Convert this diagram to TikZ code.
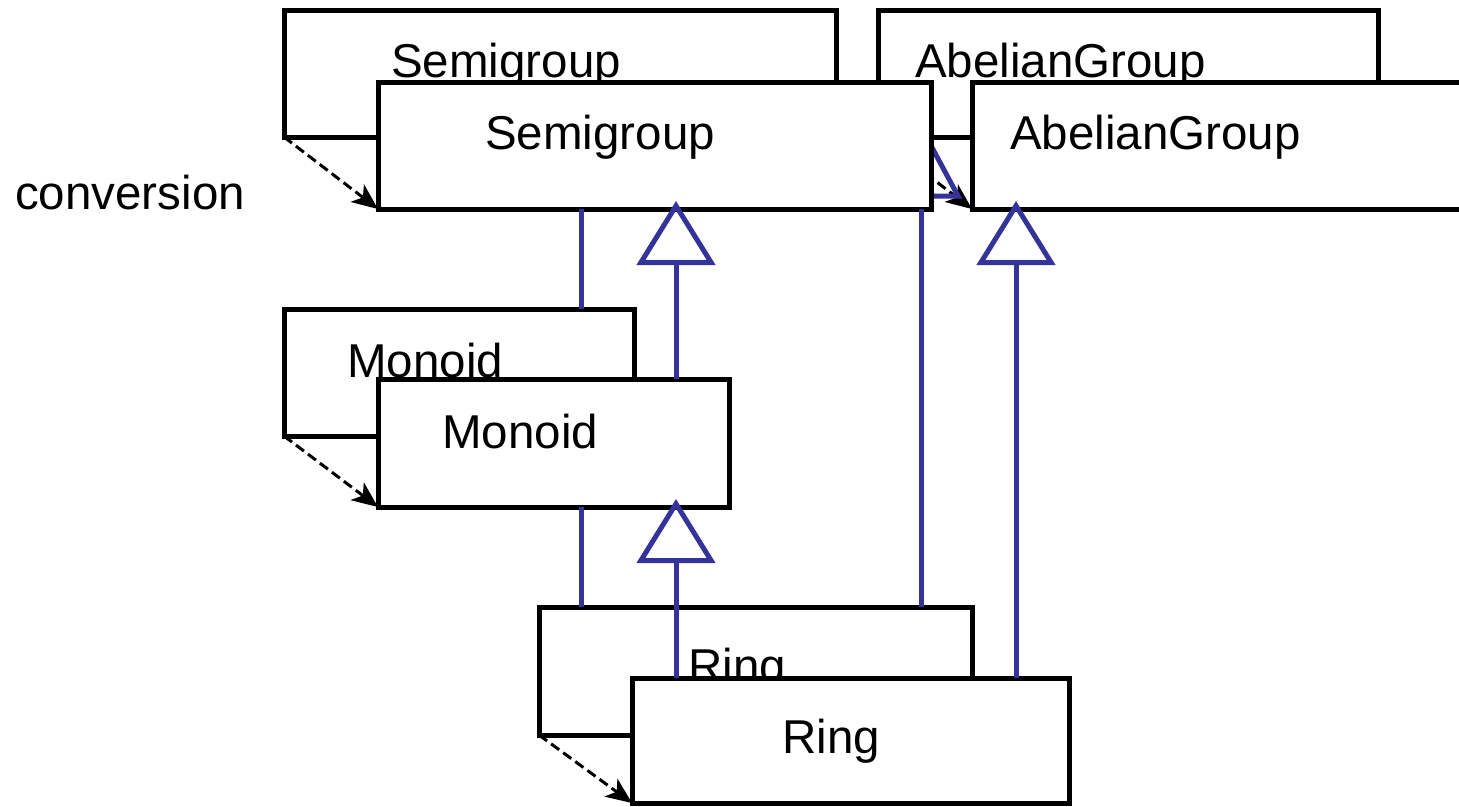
\documentclass[tikz,border=0pt]{standalone}
\usepackage{fontspec}
\setmainfont{Liberation Sans}
\usetikzlibrary{arrows.meta}
\definecolor{umlblue}{RGB}{51,51,153}
\tikzset{
  box/.style={draw=black, line width=5pt, fill=white, rectangle, inner sep=0pt, outer sep=0pt, anchor=north west},
  lbl/.style={inner sep=0pt, anchor=base west, font=\fontsize{47.5}{50}\selectfont},
  conv/.style={draw=black, line width=3pt, dash pattern=on 10pt off 5pt, -{Stealth[length=26pt,width=22pt,inset=7pt]}},
  assoc/.style={draw=umlblue, line width=5pt},
  gen/.style={draw=umlblue, line width=5pt, -{Triangle[open,length=64pt,width=78pt]}, shorten >=-8pt},
}
\begin{document}
\begin{tikzpicture}[x=1pt,y=-1pt]
\useasboundingbox (0,0) rectangle (1459,806);
\clip (0,0) rectangle (1459,806);
% back boxes
\node[box, minimum width=552pt, minimum height=127pt] (sgB) at (284,10) {};
\node[lbl] (sgBt) at (391,77) {Semigroup};
\node[box, minimum width=500pt, minimum height=127pt] (agB) at (878,10) {};
\node[lbl] (agBt) at (915,77) {AbelianGroup};
\node[box, minimum width=350pt, minimum height=127pt] (mnB) at (284,309) {};
\node[lbl] (mnBt) at (347,377) {Monoid};
\node[box, minimum width=433pt, minimum height=128pt] (rgB) at (539,607) {};
\node[lbl] (rgBt) at (688,682) {Ring};
% conversion arrow hidden behind Semigroup
\draw[conv] (agB.south west) -- (972,209);
% hidden generalization triangle
\draw[draw=umlblue, line width=5pt] (928,140) -- (958,196) -- (898,196) -- cycle;
% front boxes
\node[box, minimum width=553pt, minimum height=127pt] (sgF) at (378,82) {};
\node[lbl] (sgFt) at (485,149) {Semigroup};
\node[box, minimum width=503pt, minimum height=127pt] (agF) at (972,82) {};
\node[lbl] (agFt) at (1010,149) {AbelianGroup};
\node[box, minimum width=351pt, minimum height=128pt] (mnF) at (378,379) {};
\node[lbl] (mnFt) at (442,448) {Monoid};
\node[box, minimum width=437pt, minimum height=125pt] (rgF) at (632,678) {};
\node[lbl] (rgFt) at (782,753) {Ring};
% conversion arrows
\draw[conv] (sgB.south west) -- (sgF.south west);
\draw[conv] (mnB.south west) -- (mnF.south west);
\draw[conv] (rgB.south west) -- (rgF.south west);
% connectors
\coordinate (xa) at (581,0);
\coordinate (xb) at (676,0);
\coordinate (xc) at (921,0);
\coordinate (xd) at (1016,0);
\draw[assoc] (sgF.south -| xa) -- (mnB.north -| xa);
\draw[assoc] (mnF.south -| xa) -- (rgB.north -| xa);
\draw[assoc] (rgB.north -| xc) -- (sgF.south -| xc);
\draw[gen] (mnF.north -| xb) -- (sgF.south -| xb);
\draw[gen] (rgF.north -| xb) -- (mnF.south -| xb);
\draw[gen] (rgF.north -| xd) -- (agF.south -| xd);
\node[lbl] (cv) at (15,209) {conversion};
\end{tikzpicture}
\end{document}
